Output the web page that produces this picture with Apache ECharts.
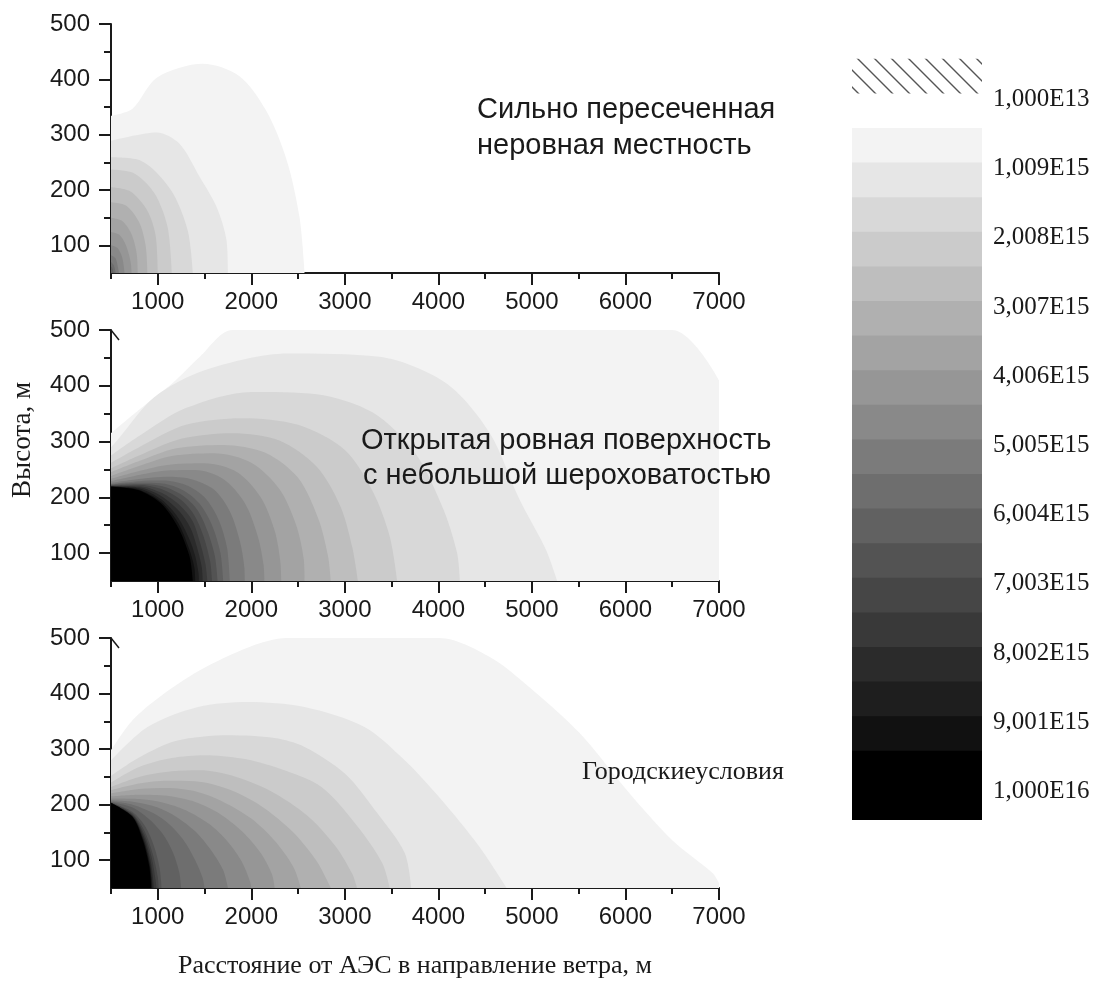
<!DOCTYPE html>
<html><head><meta charset="utf-8">
<script src="https://cdn.jsdelivr.net/npm/echarts@6/dist/echarts.min.js"></script>
<style>html,body{margin:0;padding:0;background:#fff}#c{width:1112px;height:987px}</style>
</head><body><div id="c"></div>
<script>
// ---------- data ----------
const xTicks = [1000, 2000, 3000, 4000, 5000, 6000, 7000];
const xMinorTicks = [500, 1500, 2500, 3500, 4500, 5500, 6500];
const yTicks = [100, 200, 300, 400, 500];
const yMinorTicks = [150, 250, 350, 450];
const legendLabels = ['1,000E13','1,009E15','2,008E15','3,007E15','4,006E15','5,005E15','6,004E15','7,003E15','8,002E15','9,001E15','1,000E16'];
const legendLabelPos = [-1, 1, 3, 5, 7, 9, 11, 13, 15, 17, 19];
const colorbarBands = [0,1,2,3,4,5,6,7,8,9,10,11,12,13,14,15,16,17,18,19];
const hatchBand = [-2];
const panelNotes = [
  ['Сильно пересеченная', 'неровная местность'],
  ['Открытая ровная поверхность', 'с небольшой шероховатостью'],
  ['Городскиеусловия']
];
const xName = 'Расстояние от АЭС в направление ветра, м';
const yName = 'Высота, м';

// contour boundaries [distance m, height m], outermost (lowest level) first
const roughTerrain = [
  [[500,334],[730,347],[990,403],[1480,428],[1870,406],[2160,343],[2380,253],[2515,151],[2570,50]],
  [[500,289],[990,304],[1230,284],[1450,223],[1630,169],[1735,109],[1750,50]],
  [[500,259],[820,253],[1140,200],[1320,127],[1375,50]],
  [[500,237],[750,230],[965,194],[1105,133],[1150,50]],
  [[500,205],[700,198],[880,165],[975,120],[1000,50]],
  [[500,178],[660,172],[800,142],[870,100],[890,50]],
  [[500,150],[620,144],[720,120],[775,85],[785,50]],
  [[500,124],[590,119],[660,100],[710,70],[720,50]],
  [[500,100],[570,95],[620,78],[645,50]],
  [[500,82],[550,76],[585,50]],
  [[500,70],[530,64],[550,50]],
  [[500,62],[515,58],[528,50]]
];
const openSurface = [
  [[500,315],[800,357],[1160,405],[1450,452],[1800,500],[6500,500],[7000,410]],
  [[500,290],[570,303],[965,380],[1500,428],[2390,458],[3370,452],[4080,405],[4550,315],[4870,195],[5150,106],[5270,50]],
  [[500,275],[800,310],[1300,360],[2000,389],[2700,385],[3300,352],[3750,280],[4050,180],[4200,100],[4230,50]],
  [[500,262],[800,290],[1300,330],[1900,342],[2500,330],[3000,285],[3300,210],[3480,130],[3560,50]],
  [[500,252],[800,275],[1250,305],[1800,315],[2300,302],[2700,255],[2950,185],[3080,110],[3140,50]],
  [[500,245],[800,265],[1200,288],[1700,294],[2150,280],[2500,235],[2720,160],[2820,95],[2850,50]],
  [[500,238],[800,256],[1150,274],[1600,279],[2000,262],[2300,215],[2480,150],[2560,90],[2570,50]],
  [[500,233],[800,247],[1100,258],[1500,261],[1850,245],[2100,200],[2250,140],[2310,85],[2320,50]],
  [[500,229],[800,240],[1100,248],[1400,249],[1700,233],[1930,190],[2070,130],[2130,80],[2140,50]],
  [[500,226],[800,233],[1100,237],[1350,233],[1600,214],[1770,175],[1880,120],[1925,75],[1930,50]],
  [[500,224],[800,229],[1050,230],[1300,222],[1500,200],[1650,160],[1740,110],[1770,50]],
  [[500,223],[800,226],[1050,225],[1280,212],[1450,188],[1580,150],[1670,100],[1700,50]],
  [[500,222],[800,224],[1050,220],[1260,204],[1420,178],[1530,140],[1610,95],[1640,50]],
  [[500,221],[800,222],[1050,214],[1250,195],[1390,168],[1490,130],[1560,85],[1580,50]],
  [[500,220],[800,220],[1040,208],[1240,185],[1370,158],[1450,120],[1510,80],[1530,50]],
  [[500,220],[800,218],[1040,202],[1230,175],[1350,145],[1420,110],[1470,75],[1480,50]],
  [[500,219],[800,216],[1040,196],[1220,163],[1330,128],[1400,95],[1435,65],[1440,50]],
  [[500,219],[790,214],[1035,192],[1215,155],[1330,110],[1390,75],[1400,50]],
  [[500,219],[790,213],[1035,189],[1215,147],[1340,94],[1375,50]]
];
const urbanArea = [
  [[500,298],[730,352],[1020,394],[1450,442],[1980,484],[2380,500],[4010,500],[4550,466],[4970,412],[5510,329],[6040,221],[6500,136],[6930,77],[7000,59]],
  [[500,280],[890,340],[1430,376],[1960,385],[2570,376],[3210,340],[3640,280],[4000,215],[4440,124],[4730,50]],
  [[500,252],[800,285],[1200,315],[1750,325],[2250,320],[2570,304],[3000,256],[3350,184],[3640,113],[3710,50]],
  [[500,240],[800,268],[1150,284],[1500,289],[1900,283],[2300,265],[2750,232],[3140,160],[3400,95],[3480,50]],
  [[500,232],[800,250],[1150,260],[1450,262],[1800,252],[2200,225],[2600,180],[2900,125],[3080,75],[3130,50]],
  [[500,226],[800,238],[1100,243],[1400,242],[1750,228],[2100,198],[2450,150],[2700,98],[2850,50]],
  [[500,220],[800,228],[1100,230],[1400,224],[1700,205],[2000,175],[2250,135],[2450,88],[2530,50]],
  [[500,215],[800,218],[1100,216],[1400,205],[1650,185],[1900,152],[2100,113],[2220,75],[2250,50]],
  [[500,211],[800,210],[1050,204],[1300,190],[1550,165],[1750,133],[1900,97],[1990,60],[2000,50]],
  [[500,208],[750,205],[1000,195],[1200,178],[1400,152],[1570,118],[1700,82],[1750,50]],
  [[500,206],[730,200],[950,185],[1120,165],[1280,135],[1400,100],[1480,68],[1500,50]],
  [[500,205],[730,195],[900,175],[1050,148],[1160,115],[1230,78],[1250,50]],
  [[500,204],[730,187],[870,160],[960,125],[1020,85],[1040,50]],
  [[500,204],[730,184],[860,152],[945,112],[1000,70],[1010,50]],
  [[500,203],[730,182],[855,147],[935,105],[980,60],[985,50]],
  [[500,203],[730,180],[850,143],[925,98],[960,50]],
  [[500,203],[730,179],[845,140],[918,93],[945,50]],
  [[500,203],[730,178],[842,138],[914,90],[938,50]],
  [[500,203],[730,178],[840,136],[910,88],[930,50]]
];

// ---------- style ----------
const bandGrays = [243,230,216,203,190,176,163,150,137,123,110,97,83,70,57,43,30,17,0,0];
const gray = k => { const g = bandGrays[k]; return 'rgb(' + g + ',' + g + ',' + g + ')'; };
const SANS = '"Liberation Sans", Arial, sans-serif';
const SERIF = '"Liberation Serif", "Times New Roman", serif';
const INK = '#1a1a1a';

// hatch pattern
const pc = document.createElement('canvas');
pc.width = 17; pc.height = 17;
(function () {
  const c = pc.getContext('2d');
  c.strokeStyle = '#555'; c.lineWidth = 1.4;
  c.beginPath();
  c.moveTo(-2, -2); c.lineTo(19, 19);
  c.moveTo(-2, 15); c.lineTo(2, 19);
  c.moveTo(15, -2); c.lineTo(19, 2);
  c.stroke();
})();

const panelGrids = [
  { left: 111, top: 24, width: 608, height: 249 },
  { left: 111, top: 330, width: 608, height: 251 },
  { left: 111, top: 638, width: 608, height: 250 }
];
const grids = panelGrids.concat([{ left: 852, top: 58.8, width: 130, height: 761.2 }]);

const xAxes = [], yAxes = [], series = [];
panelGrids.forEach((g, p) => {
  xAxes.push({
    type: 'value', gridIndex: p, position: 'bottom', min: 500, max: 7000, interval: 500,
    axisLine: { show: true, lineStyle: { color: INK, width: 2 } },
    axisTick: { show: true, length: 12, lineStyle: { color: INK, width: 2 }, customValues: xTicks },
    axisLabel: { show: true, customValues: xTicks, margin: 17, color: INK, fontFamily: SANS, fontSize: 24, formatter: v => String(v) },
    splitLine: { show: false }
  });
  xAxes.push({
    type: 'value', gridIndex: p, position: 'bottom', min: 500, max: 7000, interval: 500,
    axisLine: { show: false },
    axisTick: { show: true, length: 6, lineStyle: { color: INK, width: 2 }, customValues: xMinorTicks },
    axisLabel: { show: false }, splitLine: { show: false }
  });
  yAxes.push({
    type: 'value', gridIndex: p, position: 'left', min: 50, max: 500, interval: 50,
    axisLine: { show: true, lineStyle: { color: INK, width: 2 } },
    axisTick: { show: true, length: 12, lineStyle: { color: INK, width: 2 }, customValues: yTicks },
    axisLabel: { show: true, customValues: yTicks, margin: 21, color: INK, fontFamily: SANS, fontSize: 24, formatter: v => String(v) },
    splitLine: { show: false }
  });
  yAxes.push({
    type: 'value', gridIndex: p, position: 'left', min: 50, max: 500, interval: 50,
    axisLine: { show: false },
    axisTick: { show: true, length: 7, lineStyle: { color: INK, width: 2 }, customValues: yMinorTicks },
    axisLabel: { show: false }, splitLine: { show: false }
  });
});
// colour bar axes
xAxes.push({ type: 'value', gridIndex: 3, min: 0, max: 1, show: false });
yAxes.push({
  type: 'value', gridIndex: 3, position: 'right', inverse: true, min: -2, max: 20, interval: 2,
  axisLine: { show: false }, axisTick: { show: false }, splitLine: { show: false },
  axisLabel: {
    show: true, customValues: legendLabelPos, margin: 11, color: INK, fontFamily: SERIF, fontSize: 25,
    verticalAlign: 'top', lineHeight: 12,
    formatter: v => legendLabels[legendLabelPos.indexOf(v)] || ''
  }
});

[roughTerrain, openSurface, urbanArea].forEach((bands, p) => {
  bands.forEach((pts, k) => {
    series.push({
      type: 'line', xAxisIndex: p * 2, yAxisIndex: p * 2, data: pts,
      smooth: 0.3, symbol: 'none', silent: true, animation: false,
      lineStyle: { opacity: 0, width: 0 },
      areaStyle: { color: gray(k), opacity: 1, origin: 'start' },
      z: 1
    });
  });
});

function bandRect(params, api, fill, overlap) {
  const i = api.value(0);
  const a = api.coord([0, i]), b = api.coord([1, i + 1]);
  return { type: 'rect', shape: { x: a[0], y: a[1], width: b[0] - a[0], height: b[1] - a[1] + overlap }, style: { fill: fill } };
}
series.push({
  type: 'custom', xAxisIndex: 6, yAxisIndex: 6, data: colorbarBands.map(i => [i]), silent: true, animation: false,
  renderItem: (params, api) => bandRect(params, api, gray(api.value(0)), api.value(0) < 19 ? 1 : 0)
});
series.push({
  type: 'custom', xAxisIndex: 6, yAxisIndex: 6, data: hatchBand.map(i => [i]), silent: true, animation: false,
  renderItem: (params, api) => bandRect(params, api, { image: pc, repeat: 'repeat' }, 0)
});

const textStyle = (font, size) => ({ fill: INK, fontFamily: font, fontSize: size });
const Z = 100;
const graphic = [
  { type: 'text', z: Z, x: 477, y: 110, style: Object.assign({ text: panelNotes[0][0], verticalAlign: 'middle' }, textStyle(SANS, 29)) },
  { type: 'text', z: Z, x: 477, y: 146, style: Object.assign({ text: panelNotes[0][1], verticalAlign: 'middle' }, textStyle(SANS, 29)) },
  { type: 'text', z: Z, x: 361, y: 441, style: Object.assign({ text: panelNotes[1][0], verticalAlign: 'middle' }, textStyle(SANS, 29)) },
  { type: 'text', z: Z, x: 363, y: 476, style: Object.assign({ text: panelNotes[1][1], verticalAlign: 'middle' }, textStyle(SANS, 29)) },
  { type: 'text', z: Z, x: 582, y: 772, style: Object.assign({ text: panelNotes[2][0], verticalAlign: 'middle' }, textStyle(SERIF, 26)) },
  { type: 'text', z: Z, x: 415, y: 966, style: Object.assign({ text: xName, align: 'center', verticalAlign: 'middle' }, textStyle(SERIF, 26)) },
  { type: 'text', z: Z, x: 23, y: 440, rotation: Math.PI / 2, style: Object.assign({ text: yName, align: 'center', verticalAlign: 'middle' }, textStyle(SERIF, 27)) },
  { type: 'line', z: Z, shape: { x1: 111, y1: 330, x2: 119, y2: 340 }, style: { stroke: INK, lineWidth: 1.5 } },
  { type: 'line', z: Z, shape: { x1: 111, y1: 638, x2: 119, y2: 648 }, style: { stroke: INK, lineWidth: 1.5 } }
];

const chart = echarts.init(document.getElementById('c'), null, { renderer: 'canvas' });
chart.setOption({
  backgroundColor: '#fff',
  animation: false,
  grid: grids,
  xAxis: xAxes,
  yAxis: yAxes,
  series: series,
  graphic: graphic
});
</script></body></html>
